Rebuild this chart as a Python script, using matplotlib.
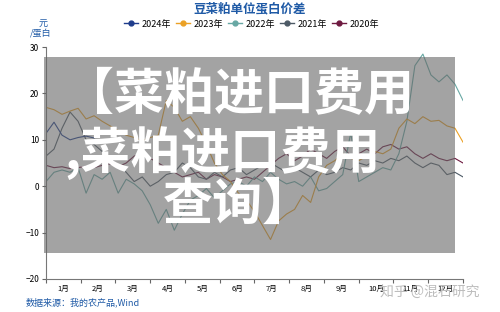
import numpy as np
import matplotlib
matplotlib.use("Agg")
import matplotlib.pyplot as plt
from matplotlib.patches import Rectangle

plt.rcParams['font.family'] = ['Noto Sans CJK SC', 'DejaVu Sans']

# weekly spread values, yuan per unit protein
years = ["2024年", "2023年", "2022年", "2021年", "2020年"]
colors = ["#1f3d8c", "#eba125", "#68a8a4", "#4d5a66", "#6e1a40"]

v2024 = [11.4, 13.8, 11.0, 10.0, 10.5, 10.8, 10.4]
v2023 = [17.0, 16.5, 15.5, 16.2, 16.8, 14.5, 15.2, 14.0, 13.0, 12.0, 11.0, 10.5,
         9.8, 10.5, 11.0, 18.5, 17.0, 14.0, 15.0, 12.5, 9.0, 5.0, 2.5, 1.0,
         -1.5, -3.0, -5.5, -8.5, -11.5, -7.5, -6.0, -5.0, -2.0, -3.5, 2.0, 4.5,
         5.5, 7.0, 6.0, 5.5, 6.5, 7.5, 7.0, 8.0, 12.5, 14.5, 13.5, 15.0,
         14.0, 14.2, 13.0, 12.5, 9.5]
v2022 = [1.0, 3.0, 3.5, 3.0, 4.0, -1.5, 2.5, 1.5, 3.0, -1.5, 1.5, 0.5,
         -1.0, -4.0, -8.0, -5.0, -9.5, -6.0, -3.0, -2.0, -0.5, -2.5, -1.0, 0.5,
         1.0, 0.0, 2.0, 1.0, 3.0, 1.5, 0.5, 1.0, 0.0, 2.0, -1.0, -0.5,
         1.0, 2.5, 11.5, 1.0, 2.0, 3.0, 4.0, 3.5, 7.0, 14.0, 26.0, 28.5,
         24.0, 22.5, 24.0, 22.0, 18.5]
v2021 = [6.5, 8.0, 12.5, 16.0, 14.0, 10.0, 9.0, 7.5, 6.0, 4.5, 3.0, 1.0,
         2.0, 0.0, 1.0, 2.5, 3.0, 5.0, 4.0, 2.0, 1.5, 3.0, 2.0, 3.5,
         4.0, 2.5, 3.5, 4.5, 5.0, 4.0, 3.0, 4.0, 3.0, 2.0, 3.5, 2.5,
         3.0, 4.0, 3.5, 5.0, 4.5, 5.5, 5.0, 6.0, 5.5, 6.5, 5.0, 4.0,
         5.0, 4.5, 2.5, 3.0, 2.0]
v2020 = [4.5, 4.0, 4.2, 3.8, 4.0, 4.3, 4.0, 4.5, 4.8, 4.2, 5.0, 6.5,
         7.0, 6.0, 5.0, 4.0, 3.0, 2.0, 2.5, 3.0, 1.5, 2.5, 2.0, 1.0,
         1.5, 2.0, 1.5, 3.0, 4.5, 6.0, 7.0, 5.5, 6.5, 8.0, 7.0, 6.0,
         7.5, 8.5, 6.5, 7.0, 8.0, 7.0, 8.5, 9.0, 8.0, 8.5, 7.0, 6.0,
         7.0, 6.0, 5.5, 6.0, 5.0]
series = [v2024, v2023, v2022, v2021, v2020]

months = [f"{i}月" for i in range(1, 13)]
blue = "#1f5aa6"

fig = plt.figure(figsize=(5, 3.12), dpi=100)
ax = fig.add_axes([0.092, 0.106, 0.834, 0.743])

# draw older years first so 2024 sits on top
for vals, col, lab in reversed(list(zip(series, colors, years))):
    x = np.arange(len(vals)) * 12 / 52
    ax.plot(x, vals, color=col, lw=0.8, label=lab)

ax.set_xlim(0, 12)
ax.set_ylim(-20, 30)
ax.set_yticks([-20, -10, 0, 10, 20, 30])
ax.set_xticks(np.arange(0, 13))
ax.set_xticklabels([])
ax.set_xticks(np.arange(12) + 0.5, minor=True)
ax.set_xticklabels(months, minor=True)
ax.tick_params(axis="x", which="minor", length=0, labelsize=5.5, pad=4)
ax.tick_params(axis="x", which="major", length=3, color="#666666")
ax.tick_params(axis="y", length=3, labelsize=6, color="#666666", pad=2)
for s in ["top", "right"]:
    ax.spines[s].set_visible(False)
for s in ["left", "bottom"]:
    ax.spines[s].set_color("#777777")
    ax.spines[s].set_linewidth(0.8)

# legend
handles = []
for col, lab in zip(colors, years):
    h, = ax.plot([], [], color=col, lw=1, marker="o", ms=3.5, label=lab)
    handles.append(h)
fig.legend(handles=handles, loc="center", bbox_to_anchor=(0.503, 0.923), ncol=5,
           frameon=False, fontsize=6.5, handlelength=1.5, handletextpad=0.4,
           columnspacing=0.6)

fig.text(0.5, 0.972, "豆菜粕单位蛋白价差", ha="center", va="center",
         fontsize=9, fontweight="bold", color=blue)
fig.text(0.086, 0.922, "元", ha="center", va="center", fontsize=6.5, color=blue)
fig.text(0.082, 0.893, "/蛋白", ha="center", va="center", fontsize=6.5, color=blue)
fig.text(0.052, 0.03, "数据来源：我的农产品,Wind", ha="left", va="center",
         fontsize=6.5, color=blue)
fig.text(0.76, 0.062, "知乎 @混石研究", ha="left", va="center",
         fontsize=10, color="#bdbdbd")

# gray overlay box and banner text
fig.patches.append(Rectangle((0.088, 0.189), 0.822, 0.628, transform=fig.transFigure,
                             facecolor="#666666", alpha=0.6, edgecolor="none", zorder=5))
big = dict(ha="center", va="center", fontsize=36, fontweight="bold", color="white", zorder=6)
fig.text(0.478, 0.695, "【菜粕进口费用", **big)
fig.text(0.446, 0.51, ",菜粕进口费用", **big)
fig.text(0.476, 0.343, "查询】", **big)

fig.savefig("out.png", dpi=100)
